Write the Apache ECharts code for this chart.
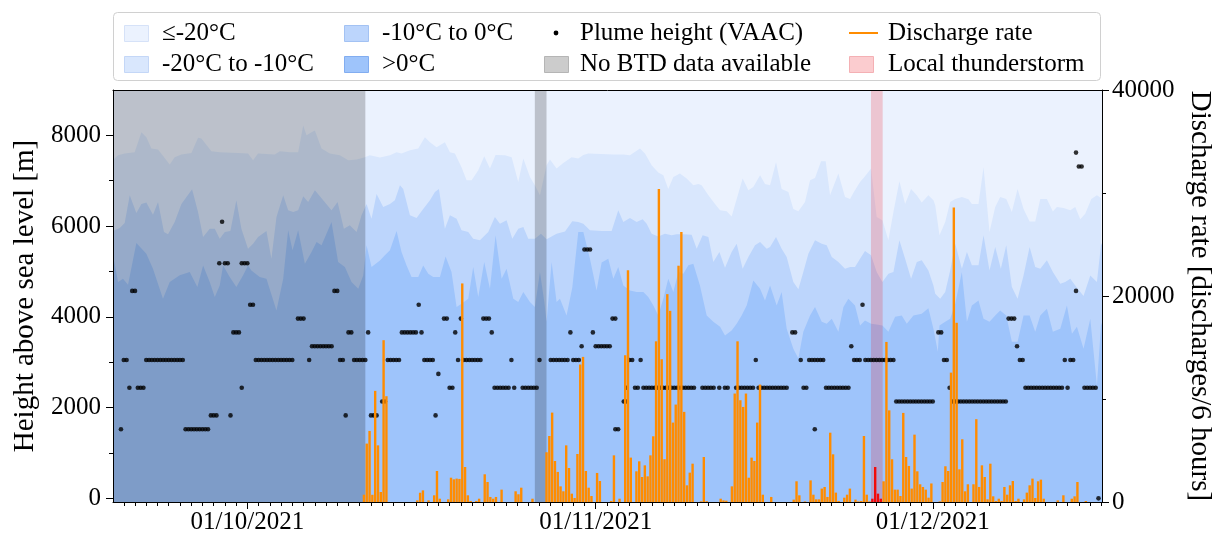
<!DOCTYPE html>
<html><head><meta charset="utf-8">
<script src="https://cdn.jsdelivr.net/npm/echarts@6/dist/echarts.min.js"></script>
<style>html,body{margin:0;padding:0;background:#fff}#c{width:1219px;height:540px}</style>
</head><body><div id="c"></div>
<script>
// ---------- DATA ----------
// time base: 2021-09-19 00:00 UTC; isotherm heights given at day offsets, plume/discharge at 6-hourly index
const T0 = Date.UTC(2021, 8, 19);
const DAY = 86400000, STEP = 6 * 3600000;
const xMin = Date.UTC(2021, 8, 19, 1, 0), xMax = Date.UTC(2021, 11, 16, 1, 30);
const monthTicks = ['2021-10-01T00:00:00Z', '2021-11-01T00:00:00Z', '2021-12-01T00:00:00Z'];
const leftTicks = [0, 2000, 4000, 6000, 8000];
const leftMinor = [1000, 3000, 5000, 7000];
const rightTicks = [0, 20000, 40000];
const rightMinor = [10000, 30000];
const noBTD = [['2021-09-19T00:00:00Z', '2021-10-11T12:00:00Z'], ['2021-10-26T14:00:00Z', '2021-10-27T15:00:00Z']];
const storm = [['2021-11-25T12:00:00Z', '2021-11-26T13:00:00Z']];

// height of -20°C isotherm [day offset, m]
const iso20 = [[0.0,7450],[0.49,7560],[1.08,7600],[1.97,7630],[2.57,8070],[3.01,7960],[3.46,7710],[4.05,7690],[5.09,7360],[5.53,7520],[6.13,7580],[7.02,7610],[7.61,7950],[7.91,7930],[8.80,7650],[9.54,7630],[11.17,7610],[12.06,7600],[12.51,7450],[12.95,7600],[14.44,7580],[14.89,7650],[15.78,7630],[16.52,7630],[16.97,8220],[17.27,8000],[17.71,8070],[18.01,8110],[18.60,7710],[19.34,7600],[20.23,7560],[20.98,7450],[21.72,7470],[22.46,7520],[22.90,7560],[23.80,7510],[24.69,7560],[25.28,7630],[25.72,7600],[26.47,7670],[27.21,7710],[27.80,7960],[28.25,7850],[28.84,7740],[29.58,7850],[30.03,7630],[30.47,7600],[31.06,7300],[31.51,7010],[31.96,7010],[32.55,7230],[33.08,7540],[33.59,7270],[34.09,7570],[34.92,7560],[35.52,7520],[36.11,6970],[36.56,7490],[37.15,7080],[37.59,6900],[38.04,6680],[38.63,7340],[38.93,7470],[39.52,7270],[40.12,7390],[40.86,7520],[41.45,7490],[41.90,7570],[42.34,7600],[44.57,7580],[45.46,7580],[46.05,7560],[46.94,7710],[47.39,7600],[47.98,7340],[48.57,7180],[49.02,7120],[49.46,6820],[49.91,7080],[50.50,7160],[51.10,7050],[51.69,6900],[52.14,6930],[52.43,6900],[53.03,6680],[53.62,6490],[54.07,6350],[54.66,6330],[55.10,6210],[55.55,6600],[56.08,7050],[56.59,6790],[57.03,6860],[57.63,7120],[58.07,6930],[58.52,6900],[59.05,7410],[59.55,6820],[60.15,6750],[60.59,6380],[61.04,6330],[61.63,6530],[62.08,7010],[62.52,7060],[63.06,7430],[63.47,7430],[63.86,6680],[64.60,7160],[65.19,6640],[65.64,6600],[66.02,6770],[66.53,6970],[66.97,7100],[67.51,7270],[68.01,6200],[68.52,6130],[69.05,5690],[69.50,6310],[70.03,6990],[70.54,6490],[71.07,6820],[71.58,6680],[72.02,6520],[72.61,6680],[73.06,6570],[73.22,6460],[73.60,5800],[74.11,6090],[74.55,6530],[75.00,6600],[75.59,6640],[76.18,6590],[76.48,6490],[77.07,6490],[77.52,7300],[78.05,5870],[78.56,6420],[79.00,6640],[79.54,6600],[80.04,6310],[80.55,6820],[81.08,6380],[81.62,6100],[82.12,6100],[82.57,6600],[83.16,6600],[83.69,6320],[84.05,6420],[84.64,6400],[85.24,6350],[85.68,6420],[86.13,6150],[86.57,6270],[87.11,6600],[87.61,6680],[87.97,6620],[88.1,6600]];

// height of -10°C isotherm [day offset, m]
const iso10 = [[0.0,5890],[0.64,5960],[1.08,6070],[1.53,6680],[2.12,6290],[2.57,6490],[3.01,6520],[3.60,6250],[4.05,6530],[4.58,5870],[4.94,5820],[5.53,6090],[6.13,6490],[7.08,6810],[7.61,6310],[8.06,5760],[8.65,5940],[9.10,5940],[9.54,5720],[9.99,5870],[10.49,5890],[11.02,6570],[11.47,5940],[12.06,5500],[12.51,5610],[12.95,5760],[13.70,5890],[14.14,5280],[14.59,6200],[15.19,6680],[15.63,6350],[16.08,6310],[16.52,6350],[16.97,6660],[17.41,6530],[18.01,6790],[18.75,6570],[19.49,6350],[20.03,6530],[20.59,5940],[21.12,6020],[21.72,5870],[22.16,6240],[22.61,6490],[23.05,6160],[23.50,6710],[24.09,6420],[24.69,6490],[25.13,6570],[25.58,6900],[25.87,6820],[26.47,6240],[27.06,6180],[27.65,6380],[28.25,6570],[28.69,6750],[29.05,6820],[29.58,5940],[30.03,6240],[30.62,6160],[31.06,5910],[31.66,5870],[32.10,5720],[32.70,5690],[33.44,5870],[34.03,6200],[34.48,6050],[35.07,6130],[35.58,5720],[36.11,5940],[36.56,5980],[37.00,5720],[37.59,5720],[38.13,5830],[38.63,5710],[39.52,5830],[40.27,5880],[40.92,6110],[41.45,6090],[41.90,6050],[42.49,5910],[43.53,5890],[44.42,5890],[45.01,6350],[45.46,6090],[46.05,6180],[46.65,6090],[47.18,6150],[47.54,6050],[47.98,5830],[48.57,5770],[49.17,5830],[49.76,5800],[50.21,5820],[50.80,5820],[51.54,5810],[51.99,5500],[52.52,5800],[53.03,5760],[53.47,5210],[54.01,5430],[54.51,5080],[55.10,5430],[55.55,5610],[56.08,5060],[56.59,5320],[57.18,5580],[57.63,5650],[58.22,5500],[58.52,5540],[59.05,5760],[59.55,5500],[60.00,5320],[60.59,4770],[61.04,4610],[61.48,4990],[61.93,5390],[62.52,5690],[63.12,5610],[63.56,5580],[64.01,5320],[64.60,5210],[65.19,5060],[65.64,5100],[66.08,5100],[66.53,5280],[66.97,5450],[67.51,5360],[68.01,4990],[68.52,4770],[69.05,4950],[69.50,4990],[70.03,5690],[70.54,5280],[71.07,4840],[71.58,5210],[72.02,5250],[72.61,5020],[73.06,4690],[73.22,4510],[73.66,4400],[74.11,4550],[74.55,5020],[75.00,5610],[75.59,5060],[76.04,5430],[76.48,5140],[77.07,5140],[77.52,5800],[78.05,5020],[78.56,5540],[79.06,5060],[79.54,5580],[80.04,4660],[80.55,4400],[81.08,4910],[81.62,5540],[82.12,5100],[82.57,5060],[83.16,5250],[83.69,4990],[84.35,4730],[84.79,4770],[85.24,4840],[85.83,4640],[86.42,4460],[87.02,4910],[87.61,4770],[87.97,5580],[88.1,5650]];

// height of 0°C isotherm [day offset, m]
const iso0 = [[0.0,5430],[0.49,4770],[0.93,4840],[1.38,4710],[2.12,5630],[3.01,5390],[3.60,5060],[4.49,4400],[5.09,4770],[5.98,4920],[6.87,4990],[7.55,4660],[8.06,5130],[8.65,4770],[9.10,4440],[9.54,4690],[9.84,5130],[10.43,4880],[11.02,4660],[11.62,4920],[12.06,5130],[12.36,5020],[13.10,4880],[13.70,4840],[14.59,4140],[15.19,4840],[15.63,5910],[16.02,5470],[16.52,5910],[17.12,5170],[17.71,5430],[18.16,5650],[18.60,5580],[19.49,6090],[20.08,5210],[20.68,5100],[21.27,4770],[21.87,4620],[22.31,4910],[22.61,5580],[23.05,5100],[23.80,5240],[24.24,5360],[24.69,5470],[25.28,5890],[25.72,5430],[26.17,5130],[26.61,4880],[27.21,4880],[27.65,5130],[28.10,4950],[28.54,4880],[29.14,4880],[29.64,5330],[30.17,4990],[30.62,4220],[31.06,4290],[31.66,4400],[32.10,5100],[32.55,4440],[33.08,5210],[33.59,4620],[34.09,5800],[34.63,4840],[35.07,5060],[35.67,4400],[36.11,4330],[36.56,4550],[37.15,4330],[37.59,4220],[38.04,4990],[38.43,4330],[38.63,3890],[39.08,5210],[39.52,4330],[39.82,4400],[40.41,4030],[40.92,4650],[41.45,5870],[41.90,5870],[42.49,5280],[43.08,4580],[43.53,5200],[44.12,5280],[44.57,4840],[45.01,5100],[45.46,4690],[46.05,4580],[46.65,4550],[47.24,4550],[47.68,4440],[48.13,4250],[48.57,4030],[49.02,4400],[49.46,4840],[49.91,4550],[50.36,4990],[50.80,4950],[51.25,5140],[51.69,5170],[52.28,4690],[52.88,4030],[53.47,3890],[54.07,3780],[54.51,3590],[55.10,3700],[55.55,3850],[55.99,4030],[56.44,4250],[57.03,4800],[57.63,4620],[58.07,4360],[58.52,4690],[59.11,4250],[59.55,4550],[60.00,3740],[60.59,3300],[61.04,3080],[61.48,3670],[62.08,4030],[62.52,4220],[63.12,3890],[63.56,3850],[64.01,3960],[64.60,3670],[65.05,4220],[65.49,4400],[66.08,4250],[66.53,3810],[66.97,3920],[67.51,3850],[68.01,3830],[68.52,3810],[69.05,3670],[69.65,4000],[70.24,4030],[70.69,3850],[71.28,4030],[72.02,4070],[72.61,4190],[73.06,3740],[73.45,3230],[73.60,3810],[74.11,3890],[74.55,3960],[75.00,4290],[75.59,4990],[76.04,3890],[76.48,4250],[77.07,4360],[77.52,3960],[78.05,3890],[78.56,4030],[79.00,4140],[79.54,4030],[80.04,3450],[80.55,3450],[81.08,4030],[81.62,4030],[82.12,3670],[82.57,4030],[83.16,4180],[83.69,3670],[84.35,3740],[84.94,4250],[85.39,3630],[85.83,3780],[86.42,3300],[87.02,3960],[87.61,2490],[87.97,3810],[88.1,3900]];

// VAAC plume height [6-hourly index, m]
const plume = [[3,1524],[4,3048],[5,3048],[6,2438],[7,4572],[8,4572],[9,2438],[10,2438],[11,2438],
[12,3048],[13,3048],[14,3048],[15,3048],[16,3048],[17,3048],[18,3048],[19,3048],[20,3048],[21,3048],[22,3048],[23,3048],[24,3048],[25,3048],
[26,1524],[27,1524],[28,1524],[29,1524],[30,1524],[31,1524],[32,1524],[33,1524],[34,1524],
[35,1829],[36,1829],[37,1829],[38,5182],[39,6096],[40,5182],[41,5182],[42,1829],[43,3658],[44,3658],[45,3658],[46,2438],[46,5182],[47,5182],[48,5182],[49,4267],[50,4267],
[51,3048],[52,3048],[53,3048],[54,3048],[55,3048],[56,3048],[57,3048],[58,3048],[59,3048],[60,3048],[61,3048],[62,3048],[63,3048],[64,3048],
[66,3962],[67,3962],[68,3962],[70,3048],
[71,3353],[72,3353],[73,3353],[74,3353],[75,3353],[76,3353],[77,3353],[78,3353],
[79,4572],[80,4572],[81,3048],[82,3048],[83,1829],[84,3658],[85,3658],
[86,3048],[87,3048],[88,3048],[89,3048],[90,3048],
[91,3658],[92,1829],[93,1829],[94,1829],[96,2134],[97,2134],
[98,3048],[99,3048],[100,3048],[101,3048],[102,3048],
[103,3658],[104,3658],[105,3658],[106,3658],[107,3658],[108,3658],
[109,4267],[110,3658],[111,3048],[112,3048],[113,3048],[114,3048],[115,1829],[116,2743],[118,3962],[119,3962],[120,2438],[121,2438],[122,3658],[123,3048],[124,3962],
[125,3048],[126,3048],[127,3048],[128,3048],[129,3048],[130,3048],[131,3048],
[132,3962],[133,3962],[134,3962],[135,3658],
[136,2438],[137,2438],[138,2438],[139,2438],[140,2438],[141,2438],
[142,3048],[143,2438],
[146,2438],[147,2438],[148,2438],[149,2438],[150,2438],[151,2438],
[152,3048],
[156,3048],[157,3048],[158,3048],[159,3048],[160,3048],[161,3048],[162,3048],
[163,3658],[164,3048],[165,3048],[166,3048],[167,3353],[168,5486],[169,5486],[170,5486],[171,3658],
[172,3353],[173,3353],[174,3353],[175,3353],[176,3353],[177,3353],
[178,3962],[179,3962],[179,1524],[180,1524],[182,2134],[183,2134],[183,2438],[184,3048],[185,3048],[186,2438],[187,2438],[188,3048],
[189,2438],[190,2438],[191,2438],[192,2438],[193,2438],[194,2438],[195,2438],[196,2438],[197,2438],[198,2438],[199,2438],[200,2438],[201,2438],[202,2438],[203,2438],[204,2438],[205,2438],[206,2438],[207,2438],
[210,2438],[211,2438],[212,2438],[213,2438],[214,2438],
[216,2438],[218,2438],[219,2438],
[222,2438],[223,2438],[224,2438],[225,2438],[226,2438],[227,2438],[228,2438],
[229,3048],
[230,2438],[231,2438],[232,2438],[233,2438],[234,2438],[235,2438],[236,2438],[237,2438],[238,2438],[239,2438],[240,2438],
[242,3658],[243,3658],[245,3048],[246,2438],[247,2438],
[248,3048],[249,3048],[250,3048],[251,3048],[252,3048],[253,3048],[250,1524],
[254,2438],[255,2438],[256,2438],[257,2438],[258,2438],[259,2438],[260,2438],[261,2438],[262,2438],
[263,3353],[264,3048],[265,3048],[266,3048],[267,4267],
[268,3048],[269,3048],[270,3048],[271,3048],[272,3048],[273,3048],[274,3048],[275,3048],[276,3048],[277,3048],[278,3048],
[279,2134],[280,2134],[281,2134],[282,2134],[283,2134],[284,2134],[285,2134],[286,2134],[287,2134],[288,2134],[289,2134],[290,2134],[291,2134],[292,2134],
[294,3658],[295,3658],[296,3048],[297,3048],[298,2438],
[299,2134],[300,2134],[301,2134],[302,2134],[303,2134],[304,2134],[305,2134],[306,2134],[307,2134],[308,2134],[309,2134],[310,2134],[311,2134],[312,2134],[313,2134],[314,2134],[315,2134],[316,2134],[317,2134],[318,2134],
[319,3962],[320,3962],[321,3962],[322,3353],[323,3048],[324,3048],
[325,2438],[326,2438],[327,2438],[328,2438],[329,2438],[330,2438],[331,2438],[332,2438],[333,2438],[334,2438],[335,2438],[336,2438],[337,2438],[338,2438],
[339,3048],[340,2438],[341,3048],[342,3048],[343,4572],[343,7620],[344,7315],[345,7315],
[346,2438],[347,2438],[348,2438],[349,2438],[350,2438],
[351,0]];

// discharge rate [6-hourly index (bar start), discharges per 6 h]
const discharge = [[89,710],[90,5670],[91,6900],[92,700],[93,10790],[94,5500],[95,970],[96,15710],[97,10270],
[108,160],[109,900],[110,1130],[112,160],[114,650],[115,3010],[116,320],
[119,260],[120,2360],[121,2200],[122,2270],[123,2240],[124,21220],[125,3400],[126,650],[127,100],[129,100],[130,320],[132,2690],[133,1940],[134,490],[135,320],[136,490],[138,1200],[143,1040],[144,750],[145,1390],[149,320],
[154,4830],[155,6410],[156,8680],[157,3980],[158,2920],[159,1520],[160,1040],[161,5500],[162,3300],[163,810],[164,390],[165,4660],[166,13350],[167,14090],[168,3010],[169,1390],[170,580],[172,2820],[173,2040],
[177,100],[178,4530],[180,320],[182,14250],[183,22500],[184,4310],[186,2980],[187,3950],[188,2430],[189,3560],[190,2490],[191,4530],[192,6380],[193,15600],[194,30390],[195,13860],[196,4150],[197,20180],[198,18560],[199,7710],[200,9460],[201,22940],[202,26210],[203,8750],[204,1620],[205,2850],[206,3720],[209,60],[210,4370],[211,80],[216,320],[217,160],[218,130],[220,1520],[221,10530],[222,15600],[223,9880],[224,9230],[225,10530],[226,2360],[227,4310],[228,3980],[229,7710],[230,11400],[231,710],[234,490],
[242,230],[243,2010],[244,650],[246,60],[248,2100],[249,710],[250,260],[251,260],[252,1300],[253,1460],[254,490],[255,6730],[256,4630],[257,910],[258,100],[260,420],[261,710],[262,1300],[264,230],[265,60],[266,100],[267,6410],[268,710],[269,60],
[270,320],[271,3400],[272,810],[273,320],
[274,2010],[275,15540],[276,8900],[277,4150],[278,1200],[279,1200],[280,580],[281,8650],[282,4370],[283,3500],[284,1300],[285,6540],[286,2980],[287,1720],[288,1460],[289,1200],[290,420],[291,1800],
[294,60],[295,1940],[296,3470],[297,3010],[298,12560],[299,28600],[300,17400],[301,3170],[302,6090],[303,1040],[304,1720],[306,1720],[307,8040],[308,1460],[309,3560],[310,2430],[311,260],[312,3720],[313,550],[314,100],[315,320],[316,100],[317,1460],[318,710],[319,1620],[320,2040],[321,100],[322,320],[324,260],[325,910],[326,1620],[327,2270],[328,390],[329,2010],[330,2170],[331,320],[336,160],[338,650],[341,320],[342,550],[343,1940],[346,100]];

// ---------- STYLE ----------
const FONT = 'Liberation Serif';
const C_LE20 = '#ebf2fe', C_20_10 = '#d9e7fd', C_10_0 = '#bcd5fc', C_GT0 = '#9ec4fb';
const C_ORANGE = '#ff8c00', C_RED = '#f20a0a';
const C_GREY = 'rgba(0,0,0,0.2)', C_PINK = 'rgba(240,20,30,0.2)';

const chart = echarts.init(document.getElementById('c'), null, {renderer: 'canvas'});
const monthMs = monthTicks.map(s => Date.parse(s));
const dayMs = [];
for (let t = Date.UTC(2021, 8, 20); t <= xMax; t += DAY) dayMs.push(t);
const stormMs = storm.map(p => [Date.parse(p[0]), Date.parse(p[1])]);
const inStorm = t => stormMs.some(p => t >= p[0] && t <= p[1]);
const fmt = v => { const d = new Date(v); const p = n => String(n).padStart(2, '0');
  return p(d.getUTCDate()) + '/' + p(d.getUTCMonth() + 1) + '/' + d.getUTCFullYear(); };
const plain = v => String(Math.round(v));

const isoSeries = (name, arr, color) => ({
  name, type: 'line', data: arr.map(p => [T0 + p[0] * DAY, p[1]]),
  showSymbol: false, symbol: 'none', smooth: false, silent: true, z: 1,
  lineStyle: {width: 0}, areaStyle: {color, opacity: 1, origin: 'start'}, animation: false
});

const baseX = {type: 'value', min: xMin, max: xMax, splitLine: {show: false}, z: 10};
const baseYL = {type: 'value', min: -80, max: 9000, splitLine: {show: false}, z: 10, position: 'left'};
const baseYR = {type: 'value', min: 0, max: 40000, splitLine: {show: false}, z: 10, position: 'right'};
const tickStyle = {color: '#000', width: 1};

const option = {
  animation: false,
  backgroundColor: '#fff',
  grid: {left: 113, right: 117, top: 90, bottom: 38, show: true, backgroundColor: C_LE20, borderWidth: 0, outerBoundsMode: 'none', containLabel: false},
  xAxis: [
    Object.assign({}, baseX, {position: 'bottom',
      axisLine: {show: true, onZero: false, lineStyle: tickStyle},
      axisTick: {show: true, customValues: monthMs, length: 7, inside: false, lineStyle: tickStyle},
      axisLabel: {show: true, customValues: monthMs, formatter: fmt, fontFamily: FONT, fontSize: 25, color: '#000', margin: 8}}),
    Object.assign({}, baseX, {position: 'bottom',
      axisLine: {show: false, onZero: false},
      axisTick: {show: true, customValues: dayMs, length: 4, lineStyle: tickStyle},
      axisLabel: {show: false}}),
    Object.assign({}, baseX, {position: 'top',
      axisLine: {show: true, onZero: false, lineStyle: tickStyle},
      axisTick: {show: false}, axisLabel: {show: false}})
  ],
  yAxis: [
    Object.assign({}, baseYL, {name: 'Height above sea level [m]', nameLocation: 'middle', nameGap: 62,
      nameTextStyle: {fontFamily: FONT, fontSize: 29, color: '#000'},
      axisLine: {show: true, onZero: false, lineStyle: tickStyle},
      axisTick: {show: true, customValues: leftTicks, length: 7, lineStyle: tickStyle},
      axisLabel: {show: true, customValues: leftTicks, formatter: plain, fontFamily: FONT, fontSize: 25, color: '#000', margin: 12}}),
    Object.assign({}, baseYR, {name: 'Discharge rate [discharges/6 hours]', nameLocation: 'middle', nameGap: 80, nameRotate: -90,
      nameTextStyle: {fontFamily: FONT, fontSize: 29, color: '#000'},
      axisLine: {show: true, onZero: false, lineStyle: tickStyle},
      axisTick: {show: true, customValues: rightTicks, length: 7, lineStyle: tickStyle},
      axisLabel: {show: true, customValues: rightTicks, formatter: plain, fontFamily: FONT, fontSize: 25, color: '#000', margin: 10}}),
    Object.assign({}, baseYL, {axisLine: {show: false, onZero: false},
      axisTick: {show: true, customValues: leftMinor, length: 4, lineStyle: tickStyle}, axisLabel: {show: false}}),
    Object.assign({}, baseYR, {axisLine: {show: false, onZero: false},
      axisTick: {show: true, customValues: rightMinor, length: 4, lineStyle: tickStyle}, axisLabel: {show: false}})
  ],
  series: [
    isoSeries('-20°C to -10°C', iso20, C_20_10),
    isoSeries('-10°C to 0°C', iso10, C_10_0),
    isoSeries('>0°C', iso0, C_GT0),
    {name: 'No BTD data available', type: 'line', data: [], silent: true, z: 2,
      markArea: {silent: true, z: 2, itemStyle: {color: C_GREY}, data: noBTD.map(p => [{xAxis: Date.parse(p[0])}, {xAxis: Date.parse(p[1])}])}},
    {name: 'Local thunderstorm', type: 'line', data: [], silent: true, z: 2,
      markArea: {silent: true, z: 2, itemStyle: {color: C_PINK}, data: storm.map(p => [{xAxis: Date.parse(p[0])}, {xAxis: Date.parse(p[1])}])}},
    {name: 'Plume height (VAAC)', type: 'scatter', z: 3, symbol: 'circle', symbolSize: 4.6,
      itemStyle: {color: '#000'}, data: plume.map(p => [T0 + p[0] * STEP, p[1]])},
    {name: 'Discharge rate', type: 'bar', yAxisIndex: 1, z: 4, barWidth: 2.4,
      data: discharge.map(p => { const t = T0 + p[0] * STEP + STEP / 2;
        return {value: [t, p[1]], itemStyle: {color: inStorm(t) ? C_RED : C_ORANGE}}; })}
  ],
  graphic: []
};

// legend drawn as graphic (matplotlib style box)
const G = option.graphic;
G.push({type: 'rect', shape: {x: 113.5, y: 12.5, width: 987, height: 68, r: 4},
  style: {fill: 'rgba(255,255,255,0.9)', stroke: '#d0d0d0', lineWidth: 1}, z: 100});
const txt = (x, y, s) => G.push({type: 'text', x, y, z: 101,
  style: {text: s, font: '25px "' + FONT + '"', fill: '#000', verticalAlign: 'middle', textAlign: 'left'}});
const patch = (x, y, fill, stroke) => G.push({type: 'rect', z: 101, shape: {x: x + 0.5, y: y - 7.5, width: 24, height: 16},
  style: {fill, stroke, lineWidth: 1}});
const R1 = 33, R2 = 64;
patch(124, R1, C_LE20, '#d6e2f8'); txt(162, R1, '≤-20°C');
patch(124, R2, C_20_10, '#c4d7f7'); txt(162, R2, '-20°C to -10°C');
patch(344, R1, C_10_0, '#a3c2f3'); txt(382, R1, '-10°C to 0°C');
patch(344, R2, C_GT0, '#82adf0'); txt(382, R2, '>0°C');
G.push({type: 'circle', z: 101, shape: {cx: 556, cy: R1, r: 2.4}, style: {fill: '#000'}});
txt(580, R1, 'Plume height (VAAC)');
patch(544, R2, '#cccccc', '#b5b5b5'); txt(580, R2, 'No BTD data available');
G.push({type: 'line', z: 101, shape: {x1: 849, y1: R1, x2: 878, y2: R1}, style: {stroke: C_ORANGE, lineWidth: 2}});
txt(888, R1, 'Discharge rate');
patch(849, R2, '#fbcccf', '#f4b0b4'); txt(888, R2, 'Local thunderstorm');

chart.setOption(option);
</script></body></html>
